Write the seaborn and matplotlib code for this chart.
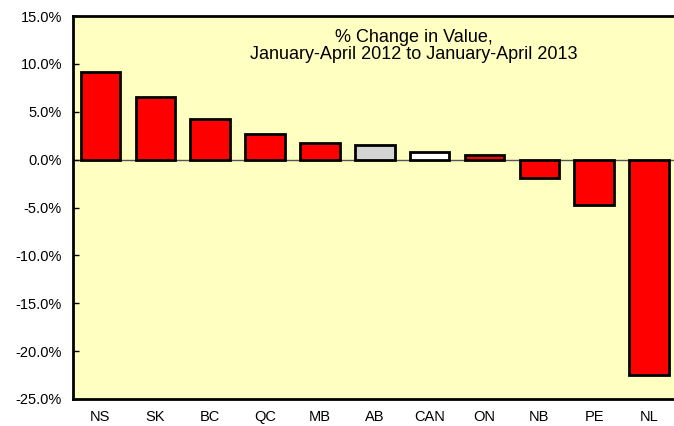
import numpy as np
import pandas as pd
import seaborn as sns
import matplotlib.pyplot as plt
from matplotlib.ticker import FuncFormatter

provinces = ["NS", "SK", "BC", "QC", "MB", "AB", "CAN", "ON", "NB", "PE", "NL"]
pct_change = [9.1, 6.5, 4.2, 2.7, 1.7, 1.5, 0.8, 0.5, -1.9, -4.75, -22.5]
bar_colors = ["#FF0000"] * 5 + ["#D4D4D4", "#FFFFFF"] + ["#FF0000"] * 4

df = pd.DataFrame({"Province": provinces, "Change": pct_change})

sns.set_style("white")
plt.rcParams["font.family"] = ["Liberation Sans", "DejaVu Sans"]
plt.rcParams["text.color"] = "black"
plt.rcParams["xtick.color"] = "black"
plt.rcParams["ytick.color"] = "black"

fig = plt.figure(figsize=(6.74, 4.26), dpi=100)
ax = fig.add_axes([73 / 674, 27 / 426, 603.5 / 674, 383 / 426])
ax.set_facecolor("#FFFFC1")

sns.barplot(df, x="Province", y="Change", hue="Province", palette=bar_colors,
            legend=False, edgecolor="black", linewidth=2, width=0.72,
            saturation=1, ax=ax)

ax.axhline(0, color="#555555", linewidth=1, zorder=0.5)
ax.set_xlim(-0.5, len(provinces) - 0.5)
ax.set_ylim(-25, 15)
ax.set_yticks(np.arange(-25, 16, 5))
ax.yaxis.set_major_formatter(FuncFormatter(lambda v, p: f"{v:.1f}%"))
ax.tick_params(axis="y", direction="in", length=4, width=1, left=True,
               labelsize=10.5, pad=8, color="black", labelcolor="black")
ax.tick_params(axis="x", length=0, labelsize=10.5, pad=8, labelcolor="black")
ax.set_xlabel("")
ax.set_ylabel("")

for side in ["left", "bottom", "top"]:
    ax.spines[side].set_visible(True)
    ax.spines[side].set_color("black")
    ax.spines[side].set_linewidth(2)
ax.spines["right"].set_visible(False)

ax.text(0.565, 0.967, "% Change in Value,\nJanuary-April 2012 to January-April 2013",
        transform=ax.transAxes, ha="center", va="top", fontsize=13,
        linespacing=1.06, color="black")

fig.savefig("out.png", dpi=100)
